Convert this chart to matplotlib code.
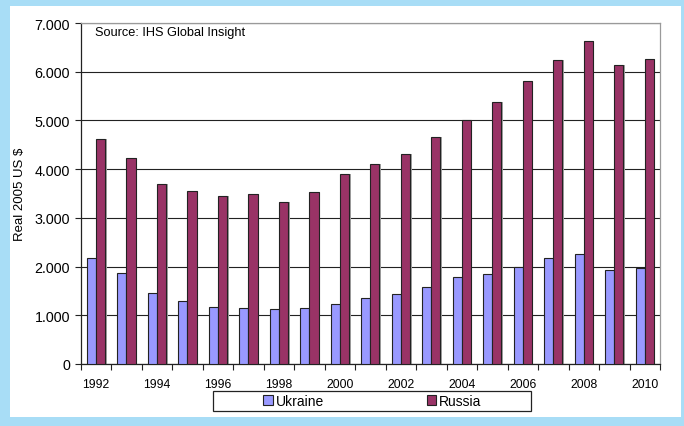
import matplotlib
matplotlib.use("Agg")
import matplotlib.pyplot as plt
import numpy as np
from matplotlib.patches import Rectangle
from matplotlib.ticker import FuncFormatter

years = list(range(1992, 2011))
ukraine = [2180, 1870, 1450, 1290, 1170, 1150, 1130, 1150, 1230, 1360,
           1440, 1580, 1790, 1850, 2000, 2180, 2260, 1930, 1970]
russia = [4620, 4230, 3700, 3550, 3440, 3490, 3320, 3540, 3900, 4110,
          4310, 4660, 5010, 5370, 5810, 6250, 6640, 6140, 6270]
series_names = ["Ukraine", "Russia"]
series_colors = ["#9999FF", "#993366"]
yticks = [0, 1000, 2000, 3000, 4000, 5000, 6000, 7000]

plt.rcParams['font.family'] = ['Liberation Sans', 'DejaVu Sans']

W, H = 684, 427
fig = plt.figure(figsize=(W / 100, H / 100), dpi=100)
fig.patch.set_facecolor("#A8DDF6")
fig.patches.append(Rectangle((10 / W, 1 - 418 / H), (681 - 10) / W, (418 - 7) / H,
                             transform=fig.transFigure, facecolor="white",
                             edgecolor="none", zorder=-5))

ax = fig.add_axes([80.7 / W, 1 - 365 / H, (660 - 80.7) / W, (365 - 24) / H])
ax.set_facecolor("white")
ax.set_zorder(2)

x = np.arange(len(years))
bw = 0.3
sh = 0.05
for vals, off, col, name in [(ukraine, -bw / 2, series_colors[0], series_names[0]),
                             (russia, bw / 2, series_colors[1], series_names[1])]:
    ax.bar(x + off + sh, vals, width=bw, color="#A0A0A0", edgecolor="none", zorder=2)
    ax.bar(x + off, vals, width=bw, color=col, edgecolor="#222222",
           linewidth=0.8, zorder=3, label=name)

ax.set_xlim(-0.5, len(years) - 0.5)
ax.set_ylim(0, 7000)
ax.set_yticks(yticks)
ax.yaxis.set_major_formatter(FuncFormatter(lambda v, p: "0" if v == 0 else f"{int(v):,}".replace(",", ".")))
ax.grid(axis="y", color="#222222", linewidth=0.8, zorder=1)
ax.set_axisbelow(True)

ax.set_xticks(x[::2])
ax.set_xticklabels([str(y) for y in years[::2]])
ax.set_xticks(np.arange(-0.5, len(years), 1), minor=True)
ax.tick_params(axis="x", which="major", length=0, pad=10, labelsize=8.8)
ax.tick_params(axis="x", which="minor", length=4, width=0.8, color="#222222")
ax.tick_params(axis="y", which="major", length=4.3, width=0.8, color="#222222",
               labelsize=10.3, pad=3.4)

for s in ["left", "bottom"]:
    ax.spines[s].set_color("#222222")
    ax.spines[s].set_linewidth(0.9)
for s in ["top", "right"]:
    ax.spines[s].set_color("#9A9A9A")
    ax.spines[s].set_linewidth(0.9)

ax.set_ylabel("Real 2005 US $", fontsize=9.5, labelpad=6)
fig.text(95 / W, 1 - 33 / H, "Source: IHS Global Insight", fontsize=9.2,
         ha="left", va="center", zorder=5)

fig.patches.append(Rectangle((213 / W, 1 - 412 / H), (531 - 213) / W, 20 / H,
                             transform=fig.transFigure, facecolor="white",
                             edgecolor="#222222", linewidth=0.9, zorder=4))
leg = fig.legend(loc="center left", bbox_to_anchor=(263 / W, 1 - 402 / H),
                 ncol=2, frameon=False, fontsize=10, handlelength=0.7,
                 handleheight=0.7, handletextpad=0.2, columnspacing=7.4,
                 borderpad=0, borderaxespad=0)
leg.set_zorder(5)

fig.savefig("out.png", dpi=100, facecolor=fig.get_facecolor())
